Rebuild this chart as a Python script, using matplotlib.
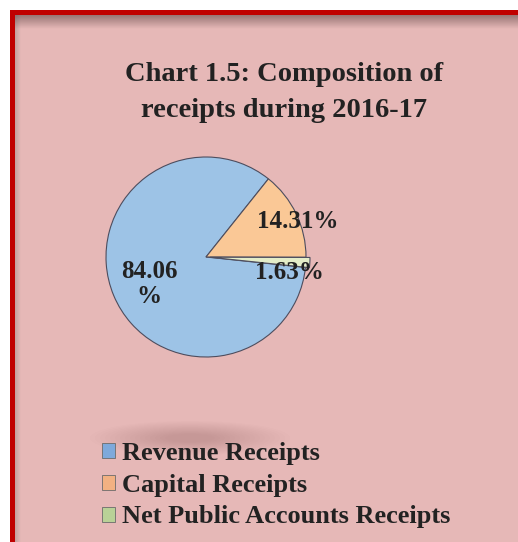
import numpy as np
import matplotlib.pyplot as plt
from matplotlib.patches import Rectangle, Ellipse

# Data
labels = ['Revenue Receipts', 'Capital Receipts', 'Net Public Accounts Receipts']
shares = [84.06, 14.31, 1.63]
pct_text = ['84.06\n%', '14.31%', '1.63%']
title = 'Chart 1.5: Composition of\nreceipts during 2016-17'

# Styles
pie_colors = ['#9DC3E6', '#FAC896', '#E4EDC8']
key_colors = ['#7EA9DB', '#F2B182', '#B9D197']
bg_pink = '#E6B8B7'
border_red = '#C00000'
serif = ['Liberation Serif', 'DejaVu Serif']
W, H = 518, 542

fig = plt.figure(figsize=(W / 100, H / 100), dpi=100, facecolor='white')

# Background panel in pixel coordinates
bg = fig.add_axes([0, 0, 1, 1])
bg.set_xlim(0, W)
bg.set_ylim(H, 0)
bg.axis('off')
bg.add_patch(Rectangle((10, 10), W, H, facecolor=border_red, edgecolor='none'))
bg.add_patch(Rectangle((15, 15), W, H, facecolor=bg_pink, edgecolor='none'))
# inner shadow under top / left border
shade = np.zeros((40, 1, 4))
shade[..., 0] = 0.35
shade[..., 1] = 0.25
shade[..., 2] = 0.25
shade[..., 3] = np.linspace(0.55, 0, 40).reshape(-1, 1)
bg.imshow(shade, extent=(15, W, 29, 15), aspect='auto', interpolation='bilinear', zorder=2)
shade_l = np.zeros((1, 20, 4))
shade_l[..., :3] = 0.35
shade_l[..., 3] = np.linspace(0.25, 0, 20)
bg.imshow(shade_l, extent=(15, 21, H, 15), aspect='auto', interpolation='bilinear', zorder=2)
# soft blurred shadow above legend
for i in range(16):
    bg.add_patch(Ellipse((190, 438), 200 - i * 10, 34 - i * 1.7,
                         facecolor='#8a5a5a', edgecolor='none', alpha=0.02, zorder=2))
bg.set_xlim(0, W)
bg.set_ylim(H, 0)

# Title
fig.text(284 / W, 1 - 117 / H, title, ha='center', va='baseline',
         fontsize=20.5, fontweight='bold', family=serif, color='#222222',
         linespacing=1.6)

# Pie
ax = fig.add_axes([106 / W, 1 - 357 / H, 200 / W, 200 / H])
wedges, _ = ax.pie(shares, colors=pie_colors, startangle=-6, counterclock=False,
                   explode=(0, 0.0, 0.04),
                   wedgeprops=dict(edgecolor='#4d4d5e', linewidth=0.8))
ax.set_xlim(-1, 1)
ax.set_ylim(-1, 1)
ax.set_aspect('equal')

label_pos = [(-0.57, -0.27), (0.915, 0.36), (0.835, -0.155)]
for txt, (x, y) in zip(pct_text, label_pos):
    ax.text(x, y, txt, ha='center', va='center', fontsize=18, fontweight='bold',
            family=serif, color='#222222', linespacing=1.15)

# Legend
handles = [Rectangle((0, 0), 1, 1, facecolor=c, edgecolor='#6b6b6b', linewidth=0.6)
           for c in key_colors]
leg = fig.legend(handles, labels, loc='upper left',
                 bbox_to_anchor=(102 / W, 1 - 442 / H), frameon=False,
                 prop=dict(family=serif, weight='bold', size=19),
                 handlelength=0.5, handleheight=0.5, handletextpad=0.25,
                 labelspacing=0.33, borderpad=0, borderaxespad=0)
for t in leg.get_texts():
    t.set_color('#222222')

fig.savefig('out.png', dpi=100, facecolor='white')
